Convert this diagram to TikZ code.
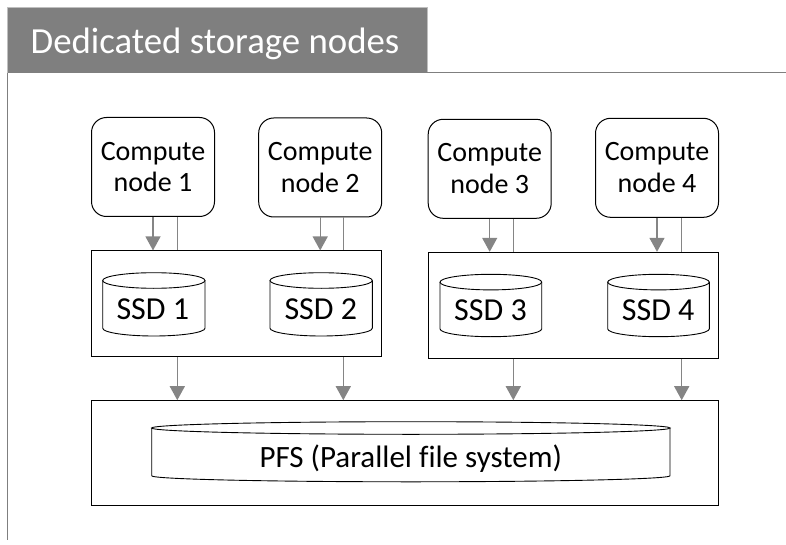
\documentclass[tikz,border=0pt]{standalone}
\usepackage{fontspec}
\setmainfont{Carlito}[Ligatures=NoCommon]
\usetikzlibrary{%
		arrows.meta%
	}
\definecolor{tabgray}{HTML}{7F7F7F}
\definecolor{linegray}{HTML}{858585}

\begin{document}
\begin{tikzpicture}[x=1pt,y=-1pt,
		cnode/.style={draw=black,line width=1pt,rounded corners=15pt,minimum width=123pt,minimum height=99pt,inner sep=0pt,align=center,font=\fontsize{28}{31.7}\selectfont},
		storbox/.style={draw=black,line width=1pt,minimum width=290pt,minimum height=105.7pt,inner sep=0pt},
		disk/.style={draw=black,line width=0.9pt},
		link/.style={linegray,line width=1.3pt},
		arr/.style={link,-{Triangle[width=15pt,length=14pt]}}]
			\useasboundingbox (0,0) rectangle (786,545);

			% frame and title tab
			\fill[tabgray] (7.3,7.3) rectangle (427.3,72.7);
			\draw[tabgray!50,line width=0.8pt] (7.3,72.7) -- (7.3,7.3) -- (427.3,7.3) -- (427.3,72.7);
			\draw[tabgray,line width=1.5pt] (427.3,72.7) -- (786,72.7);
			\draw[tabgray,line width=1.5pt] (7.3,72.7) -- (7.3,540);
			\node[anchor=base west,inner sep=0pt,text=white,font=\fontsize{36.8}{40}\selectfont] (title) at (30.5,53.3) {Dedicated storage nodes};

			% compute nodes
			\node[cnode] (cn1) at (153,167) {Compute\\node 1};
			\node[cnode] (cn2) at (320.2,167.5) {Compute\\node 2};
			\node[cnode] (cn3) at (489.7,168.8) {Compute\\node 3};
			\node[cnode] (cn4) at (657,167.8) {Compute\\node 4};

			% storage boxes and PFS
			\node[storbox] (stor1) at (236.7,303.8) {};
			\node[storbox] (stor2) at (573.3,305.2) {};
			\node[draw=black,line width=1pt,minimum width=627.3pt,minimum height=105pt,inner sep=0pt] (pfs) at (404.7,453.2) {};

			% SSD disks
			\draw[disk] (102.7,280.5) -- (102.7,328.2) arc[start angle=180,end angle=360,x radius=51.15pt,y radius=7.8pt] -- (205,280.5);
			\draw[disk] (153.85,280.5) ellipse [x radius=51.15pt,y radius=7.8pt];
			\node[anchor=base,inner sep=0pt,font=\fontsize{32}{36}\selectfont] (ssd1) at (152.8,319.3) {SSD 1};

			\draw[disk] (270,280.5) -- (270,328.2) arc[start angle=180,end angle=360,x radius=51.15pt,y radius=7.8pt] -- (372.3,280.5);
			\draw[disk] (321.15,280.5) ellipse [x radius=51.15pt,y radius=7.8pt];
			\node[anchor=base,inner sep=0pt,font=\fontsize{32}{36}\selectfont] (ssd2) at (320.8,319.3) {SSD 2};

			\draw[disk] (440,282.1) -- (440,328.9) arc[start angle=180,end angle=360,x radius=50.85pt,y radius=7.8pt] -- (541.7,282.1);
			\draw[disk] (490.85,282.1) ellipse [x radius=50.85pt,y radius=7.8pt];
			\node[anchor=base,inner sep=0pt,font=\fontsize{32}{36}\selectfont] (ssd3) at (490.5,320.7) {SSD 3};

			\draw[disk] (607.7,282.1) -- (607.7,328.9) arc[start angle=180,end angle=360,x radius=50.8pt,y radius=7.8pt] -- (709.3,282.1);
			\draw[disk] (658.5,282.1) ellipse [x radius=50.8pt,y radius=7.8pt];
			\node[anchor=base,inner sep=0pt,font=\fontsize{32}{36}\selectfont] (ssd4) at (658.2,320.7) {SSD 4};

			\draw[disk] (151.7,428) -- (151.7,475.8) arc[start angle=180,end angle=360,x radius=259.15pt,y radius=6pt] -- (670,428);
			\draw[disk] (410.85,428) ellipse [x radius=259.15pt,y radius=6.3pt];
			\node[anchor=base,inner sep=0pt,font=\fontsize{31}{35}\selectfont] (pfstext) at (410.8,467.7) {PFS (Parallel file system)};

			% compute node to storage
			\draw[arr] (cn1.south) -- (cn1.south |- stor1.north);
			\draw[link] ([xshift=24.3pt]cn1.south) -- ([xshift=24.3pt]cn1.south |- stor1.north);
			\draw[arr] (cn2.south) -- (cn2.south |- stor1.north);
			\draw[link] ([xshift=23.1pt]cn2.south) -- ([xshift=23.1pt]cn2.south |- stor1.north);
			\draw[arr] (cn3.south) -- (cn3.south |- stor2.north);
			\draw[link] ([xshift=23.6pt]cn3.south) -- ([xshift=23.6pt]cn3.south |- stor2.north);
			\draw[arr] (cn4.south) -- (cn4.south |- stor2.north);
			\draw[link] ([xshift=24.7pt]cn4.south) -- ([xshift=24.7pt]cn4.south |- stor2.north);

			% storage to PFS
			\draw[arr] ([xshift=24.3pt]cn1.south |- stor1.south) -- ([xshift=24.3pt]cn1.south |- pfs.north);
			\draw[arr] ([xshift=23.1pt]cn2.south |- stor1.south) -- ([xshift=23.1pt]cn2.south |- pfs.north);
			\draw[arr] ([xshift=23.6pt]cn3.south |- stor2.south) -- ([xshift=23.6pt]cn3.south |- pfs.north);
			\draw[arr] ([xshift=24.7pt]cn4.south |- stor2.south) -- ([xshift=24.7pt]cn4.south |- pfs.north);
		\end{tikzpicture}
\end{document}
